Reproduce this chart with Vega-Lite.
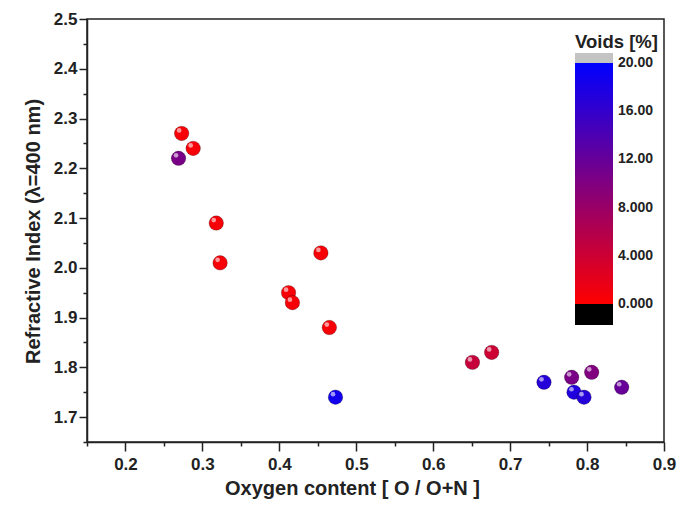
{
  "$schema": "https://vega.github.io/schema/vega-lite/v6.json",
  "width": 577,
  "height": 423,
  "autosize": {"type": "none"},
  "padding": {"left": 87, "top": 19, "right": 13, "bottom": 65},
  "background": "white",
  "config": {
    "view": {"stroke": "#222", "strokeWidth": 1.5},
    "font": "Liberation Sans",
    "legend": {"gradientVerticalMinLength": 5, "padding": 0}
  },
  "data": {
    "values": [
      {"oxygen": 0.273, "n": 2.27, "voids": 0.5},
      {"oxygen": 0.288, "n": 2.24, "voids": 0.5},
      {"oxygen": 0.269, "n": 2.22, "voids": 10.5},
      {"oxygen": 0.318, "n": 2.09, "voids": 0.5},
      {"oxygen": 0.323, "n": 2.01, "voids": 0.5},
      {"oxygen": 0.454, "n": 2.03, "voids": 0.5},
      {"oxygen": 0.412, "n": 1.95, "voids": 0.5},
      {"oxygen": 0.417, "n": 1.93, "voids": 0.5},
      {"oxygen": 0.465, "n": 1.88, "voids": 0.5},
      {"oxygen": 0.473, "n": 1.74, "voids": 18.5},
      {"oxygen": 0.651, "n": 1.81, "voids": 4.5},
      {"oxygen": 0.676, "n": 1.83, "voids": 4.0},
      {"oxygen": 0.744, "n": 1.77, "voids": 17.0},
      {"oxygen": 0.780, "n": 1.78, "voids": 10.5},
      {"oxygen": 0.806, "n": 1.79, "voids": 10.0},
      {"oxygen": 0.783, "n": 1.75, "voids": 17.5},
      {"oxygen": 0.796, "n": 1.74, "voids": 17.0},
      {"oxygen": 0.845, "n": 1.76, "voids": 12.0}
    ]
  },
  "encoding": {
    "x": {
      "field": "oxygen",
      "type": "quantitative",
      "scale": {"domain": [0.15, 0.9], "nice": false, "zero": false},
      "axis": {
        "title": "Oxygen content [ O / O+N ]",
        "values": [0.15, 0.2, 0.25, 0.3, 0.35, 0.4, 0.45, 0.5, 0.55, 0.6, 0.65, 0.7, 0.75, 0.8, 0.85, 0.9],
        "labelExpr": "abs(datum.value*10 - round(datum.value*10)) < 0.01 ? format(datum.value, '.1f') : ''",
        "tickSize": {"condition": {"test": "abs(datum.value*10 - round(datum.value*10)) < 0.01", "value": 9}, "value": 4},
        "tickColor": "#222",
        "tickWidth": 1.5,
        "domainColor": "#222",
        "domainWidth": 1.5,
        "grid": false,
        "labelFont": "Liberation Sans",
        "labelFontWeight": "bold",
        "labelFontSize": 17,
        "labelColor": "#222",
        "labelPadding": 5,
        "labelFlush": false,
        "titleFont": "Liberation Sans",
        "titleFontWeight": "bold",
        "titleFontSize": 20,
        "titleColor": "#222",
        "titlePadding": 6,
        "titleX": 265,
        "titleAlign": "center"
      }
    },
    "y": {
      "field": "n",
      "type": "quantitative",
      "scale": {"domain": [1.65, 2.5], "nice": false, "zero": false},
      "axis": {
        "title": "Refractive Index (λ=400 nm)",
        "values": [1.65, 1.7, 1.75, 1.8, 1.85, 1.9, 1.95, 2.0, 2.05, 2.1, 2.15, 2.2, 2.25, 2.3, 2.35, 2.4, 2.45, 2.5],
        "labelExpr": "abs(datum.value*10 - round(datum.value*10)) < 0.01 ? format(datum.value, '.1f') : ''",
        "tickSize": {"condition": {"test": "abs(datum.value*10 - round(datum.value*10)) < 0.01", "value": 8}, "value": 4},
        "tickColor": "#222",
        "tickWidth": 1.5,
        "domainColor": "#222",
        "domainWidth": 1.5,
        "grid": false,
        "labelFont": "Liberation Sans",
        "labelFontWeight": "bold",
        "labelFontSize": 17,
        "labelColor": "#222",
        "labelPadding": 2,
        "labelFlush": false,
        "titleFont": "Liberation Sans",
        "titleFontWeight": "bold",
        "titleFontSize": 20,
        "titleColor": "#222",
        "titlePadding": 10,
        "titleY": 212,
        "titleAlign": "center"
      }
    }
  },
  "layer": [
    {
      "mark": {"type": "point", "filled": true, "size": 210, "opacity": 1, "stroke": "#000", "strokeOpacity": 0.25, "strokeWidth": 1},
      "encoding": {
        "color": {
          "field": "voids",
          "type": "quantitative",
          "scale": {
            "domain": [-0.02, 20.02],
            "range": ["#ff0000", "#0000ff"],
            "interpolate": "rgb",
            "nice": false
          },
          "legend": {
            "title": "Voids [%]",
            "orient": "none",
            "legendX": 488,
            "legendY": 14,
            "direction": "vertical",
            "gradientLength": 241,
            "gradientThickness": 38,
            "gradientStrokeWidth": 0,
            "values": [0, 4, 8, 12, 16, 20],
            "labelExpr": "datum.value < 10 ? format(datum.value, '.3f') : format(datum.value, '.2f')",
            "labelFont": "Liberation Sans",
            "labelFontWeight": "bold",
            "labelFontSize": 14,
            "labelColor": "#222",
            "labelOffset": 5,
            "labelBaseline": "middle",
            "labelOverlap": false,
            "titleFont": "Liberation Sans",
            "titleFontWeight": "bold",
            "titleFontSize": 18.5,
            "titleColor": "#222",
            "titlePadding": 11.5,
            "encode": {
              "labels": {"baseline": {"value": "middle"}}
            }
          }
        }
      }
    },
    {
      "mark": {"type": "point", "filled": true, "size": 22, "color": "white", "opacity": 0.6, "xOffset": -2.5, "yOffset": -3}
    },
    {
      "mark": {"type": "point", "filled": true, "size": 0, "opacity": 1, "strokeWidth": 0},
      "encoding": {
        "fill": {
          "field": "voids",
          "type": "quantitative",
          "scale": {"domain": [0, 1], "range": ["#000000", "#000000"], "nice": false},
          "legend": {
            "title": null,
            "orient": "none",
            "legendX": 488,
            "legendY": 285,
            "direction": "vertical",
            "gradientLength": 21,
            "gradientThickness": 38,
            "gradientStrokeWidth": 0,
            "labelExpr": "''"
          }
        },
        "stroke": {
          "field": "voids",
          "type": "quantitative",
          "scale": {"domain": [0, 2], "range": ["#c4c4c4", "#c4c4c4"], "nice": false},
          "legend": {
            "title": null,
            "orient": "none",
            "legendX": 488,
            "legendY": 34,
            "direction": "vertical",
            "gradientLength": 10,
            "gradientThickness": 38,
            "gradientStrokeWidth": 0,
            "labelExpr": "''"
          }
        }
      }
    }
  ]
}
